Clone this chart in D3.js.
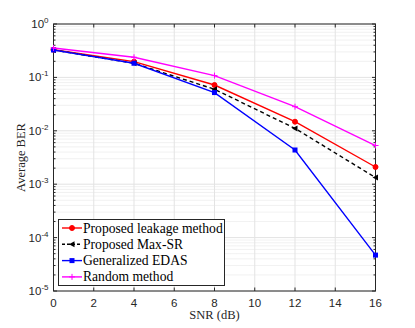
<!DOCTYPE html>
<head>
  <meta charset="utf-8" />
  <title>BER chart</title>
</head>
<body style="margin:0;background:#fff">
  <script src="https://cdn.jsdelivr.net/npm/d3@7"></script>
  <script>
    // values
    var snr = [0, 4, 8, 12, 16];
    var leakage = [0.33, 0.197, 0.072, 0.0148, 0.0021];
    var maxSR = [0.326, 0.184, 0.060, 0.0111, 0.00133];
    var edas = [0.326, 0.184, 0.052, 0.00437, 0.000047];
    var randomM = [0.355, 0.238, 0.108, 0.0283, 0.0053];
    var names = ["Proposed leakage method", "Proposed Max-SR", "Generalized EDAS", "Random method"];
    var xTicks = [0, 2, 4, 6, 8, 10, 12, 14, 16];
    var yDecades = [0, -1, -2, -3, -4, -5];

    var series = [
      { name: names[0], vals: leakage, color: "#ff0000", dash: null, marker: "circle" },
      { name: names[1], vals: maxSR, color: "#000000", dash: "4,3", marker: "tri" },
      { name: names[2], vals: edas, color: "#0000ff", dash: null, marker: "square" },
      { name: names[3], vals: randomM, color: "#ff00ff", dash: null, marker: "plus" },
    ];

    var W = 415, H = 328;
    var L = 53.5, R = 375.5, T = 24, B = 291;
    var svg = d3.select("body").append("svg").attr("width", W).attr("height", H);

    var x = d3.scaleLinear().domain([0, 16]).range([L, R]);
    var y = d3.scaleLog().domain([1e-5, 1]).range([B, T]);

    // grid
    var g = svg.append("g");
    var minors = [];
    yDecades.forEach(function (d) {
      if (d > -5) for (var k = 2; k <= 9; k++) minors.push(k * Math.pow(10, d - 1));
    });
    g.selectAll(".ym").data(minors).enter().append("line")
      .attr("x1", L).attr("x2", R)
      .attr("y1", function (d) { return y(d); }).attr("y2", function (d) { return y(d); })
      .attr("stroke", "#d0d0d0").attr("stroke-width", 0.6).attr("stroke-dasharray", "1,1");
    g.selectAll(".yM").data(yDecades).enter().append("line")
      .attr("x1", L).attr("x2", R)
      .attr("y1", function (d) { return y(Math.pow(10, d)); }).attr("y2", function (d) { return y(Math.pow(10, d)); })
      .attr("stroke", "#e3e3e3").attr("stroke-width", 1);
    g.selectAll(".xM").data(xTicks).enter().append("line")
      .attr("y1", T).attr("y2", B)
      .attr("x1", function (d) { return x(d); }).attr("x2", function (d) { return x(d); })
      .attr("stroke", "#e3e3e3").attr("stroke-width", 1);

    // box + ticks
    svg.append("rect").attr("x", L).attr("y", T).attr("width", R - L).attr("height", B - T)
      .attr("fill", "none").attr("stroke", "#262626").attr("stroke-width", 1);
    var tk = svg.append("g").attr("stroke", "#262626").attr("stroke-width", 1);
    xTicks.forEach(function (d) {
      tk.append("line").attr("x1", x(d)).attr("x2", x(d)).attr("y1", B).attr("y2", B - 3.5);
      tk.append("line").attr("x1", x(d)).attr("x2", x(d)).attr("y1", T).attr("y2", T + 3.5);
    });
    yDecades.forEach(function (d) {
      var yy = y(Math.pow(10, d));
      tk.append("line").attr("x1", L).attr("x2", L + 3.5).attr("y1", yy).attr("y2", yy);
      tk.append("line").attr("x1", R).attr("x2", R - 3.5).attr("y1", yy).attr("y2", yy);
    });
    minors.forEach(function (d) {
      tk.append("line").attr("x1", L).attr("x2", L + 2).attr("y1", y(d)).attr("y2", y(d));
      tk.append("line").attr("x1", R).attr("x2", R - 2).attr("y1", y(d)).attr("y2", y(d));
    });

    // tick labels
    svg.selectAll(".xl").data(xTicks).enter().append("text")
      .attr("x", function (d) { return x(d); }).attr("y", B + 16)
      .attr("text-anchor", "middle").attr("font-family", "Liberation Sans, Arial")
      .attr("font-size", 11.5).attr("fill", "#262626").text(function (d) { return d; });
    var yl = svg.selectAll(".yl").data(yDecades).enter().append("text")
      .attr("x", L - 5).attr("y", function (d) { return y(Math.pow(10, d)) + 4; })
      .attr("text-anchor", "end").attr("font-family", "Liberation Sans, Arial")
      .attr("font-size", 11.5).attr("fill", "#262626");
    yl.append("tspan").text("10");
    yl.append("tspan").attr("dy", -5).attr("font-size", 8).text(function (d) { return d; });

    // axis titles
    svg.append("text").attr("x", (L + R) / 2).attr("y", 319).attr("text-anchor", "middle")
      .attr("font-family", "Liberation Serif, Times New Roman").attr("font-size", 12.5)
      .attr("fill", "#262626").text("SNR (dB)");
    svg.append("text").attr("transform", "translate(25," + (T + B) / 2 + ") rotate(-90)")
      .attr("text-anchor", "middle").attr("font-family", "Liberation Serif, Times New Roman")
      .attr("font-size", 12.5).attr("fill", "#262626").text("Average BER");

    // markers
    function drawMarker(sel, m, cx, cy, color) {
      if (m === "circle") sel.append("circle").attr("cx", cx).attr("cy", cy).attr("r", 2.5).attr("fill", color).attr("stroke", color);
      else if (m === "square") sel.append("rect").attr("x", cx - 2.5).attr("y", cy - 2.5).attr("width", 5).attr("height", 5).attr("fill", color);
      else if (m === "tri") sel.append("path").attr("d", "M" + (cx - 3) + "," + cy + "L" + (cx + 2.5) + "," + (cy - 3) + "L" + (cx + 2.5) + "," + (cy + 3) + "Z").attr("fill", color);
      else if (m === "plus") sel.append("path").attr("d", "M" + (cx - 3) + "," + cy + "H" + (cx + 3) + "M" + cx + "," + (cy - 3) + "V" + (cy + 3)).attr("stroke", color).attr("stroke-width", 1);
    }

    var line = d3.line().x(function (d, i) { return x(snr[i]); }).y(function (d) { return y(d); });
    series.forEach(function (s) {
      var sg = svg.append("g");
      sg.append("path").attr("d", line(s.vals)).attr("fill", "none").attr("stroke", s.color)
        .attr("stroke-width", 1.4).attr("stroke-dasharray", s.dash);
      s.vals.forEach(function (v, i) { drawMarker(sg, s.marker, x(snr[i]), y(v), s.color); });
    });

    // legend
    var lg = svg.append("g");
    lg.append("rect").attr("x", 58.5).attr("y", 219.5).attr("width", 166).attr("height", 66)
      .attr("fill", "#fff").attr("stroke", "#262626").attr("stroke-width", 1);
    series.forEach(function (s, i) {
      var yy = 228 + i * 16.3;
      lg.append("line").attr("x1", 62).attr("x2", 82).attr("y1", yy).attr("y2", yy)
        .attr("stroke", s.color).attr("stroke-width", 1.4).attr("stroke-dasharray", s.dash ? "3,2" : null);
      drawMarker(lg, s.marker, 72, yy, s.color);
      lg.append("text").attr("x", 83).attr("y", yy + 4.5).attr("font-family", "Liberation Serif, Times New Roman")
        .attr("font-size", 13.6).attr("fill", "#000").text(s.name);
    });
  </script>
</body>
